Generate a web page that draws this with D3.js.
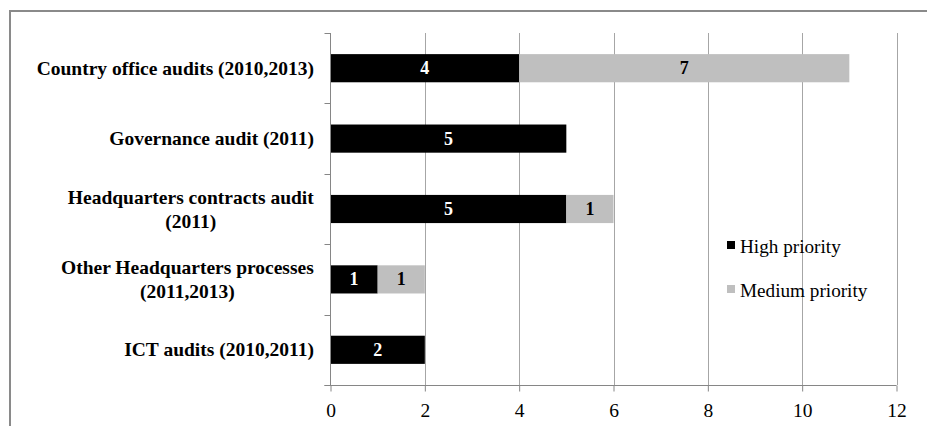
<!DOCTYPE html>
<html><head><meta charset="utf-8">
<script src="https://cdn.jsdelivr.net/npm/d3@7/dist/d3.min.js"></script>
<style>
html,body{margin:0;padding:0;background:#fff;}
svg{display:block;}
</style></head>
<body>
<svg id="chart" width="927" height="426"></svg>
<script>
const categories = [
  "Country office audits (2010,2013)",
  "Governance audit (2011)",
  "Headquarters contracts audit|(2011)",
  "Other Headquarters processes|(2011,2013)",
  "ICT audits (2010,2011)"
];
const highPriority = [4, 5, 5, 1, 2];
const mediumPriority = [7, 0, 1, 1, 0];
const seriesNames = ["High priority", "Medium priority"];
const xTicks = [0, 2, 4, 6, 8, 10, 12];

(function () {
const svg = d3.select("#chart");
const font = "Liberation Serif";
const pLeft = 330.5, pRight = 896.5, pTop = 33, pBottom = 385;

// outer frame
svg.append("rect").attr("x", 10).attr("y", 11).attr("width", 940).attr("height", 440)
  .attr("fill", "none").attr("stroke", "#8a8a8a").attr("stroke-width", 2);

const x = d3.scaleLinear().domain([0, 12]).range([pLeft, pRight]);
const y = d3.scaleBand().domain(categories).range([pTop, pBottom]).paddingInner(0.6).paddingOuter(0.3);

// gridlines
svg.append("g").selectAll("line").data(xTicks.filter(d => d > 0)).join("line")
  .attr("x1", d => Math.round(x(d)) + 0.5).attr("x2", d => Math.round(x(d)) + 0.5)
  .attr("y1", pTop).attr("y2", pBottom)
  .attr("stroke", "#a6a6a6").attr("stroke-width", 1);

const rows = categories.map((c, i) => ({c, h: highPriority[i], m: mediumPriority[i]}));
const colors = ["#000000", "#bfbfbf"];

const g = svg.append("g");
rows.forEach(r => {
  const segs = [
    {x0: 0, x1: r.h, v: r.h, col: colors[0], tc: "#ffffff"},
    {x0: r.h, x1: r.h + r.m, v: r.m, col: colors[1], tc: "#000000"}
  ];
  segs.forEach(s => {
    if (s.v <= 0) return;
    g.append("rect").attr("x", x(s.x0)).attr("width", x(s.x1) - x(s.x0))
      .attr("y", y(r.c)).attr("height", y.bandwidth()).attr("fill", s.col);
    g.append("text").attr("x", (x(s.x0) + x(s.x1)) / 2).attr("y", y(r.c) + y.bandwidth() / 2 + 6)
      .attr("text-anchor", "middle").attr("font-family", font).attr("font-weight", "bold")
      .attr("font-size", 18).attr("fill", s.tc).text(s.v);
  });
});

// x axis
const xAxis = svg.append("g").attr("transform", `translate(0,${pBottom + 0.5})`)
  .call(d3.axisBottom(x).tickValues(xTicks).tickSize(6).tickPadding(12).tickSizeOuter(0));
xAxis.attr("font-family", font);
xAxis.select(".domain").remove();
xAxis.append("line").attr("x1", pLeft - 6).attr("x2", pRight).attr("y1", 0).attr("y2", 0).attr("stroke", "#868686");
xAxis.selectAll(".tick line").attr("stroke", "#868686");
xAxis.selectAll(".tick text").attr("font-family", font).attr("font-size", 19.5).attr("fill", "#000");

// y axis
const yAxis = svg.append("g").attr("transform", `translate(${pLeft},0)`);
yAxis.append("line").attr("x1", 0).attr("x2", 0).attr("y1", pTop).attr("y2", pBottom).attr("stroke", "#868686");
const bounds = categories.map(c => y(c) - y.step() * y.paddingInner() / 2);
bounds.push(pBottom);
yAxis.selectAll("line.tk").data(bounds).join("line").attr("class", "tk")
  .attr("x1", -6).attr("x2", 0).attr("y1", d => Math.round(d) + 0.5).attr("y2", d => Math.round(d) + 0.5)
  .attr("stroke", "#868686");

// category labels
categories.forEach(c => {
  const lines = c.split("|");
  const cy = y(c) + y.bandwidth() / 2;
  const lh = 24;
  const t = svg.append("text").attr("font-family", font)
    .attr("font-weight", "bold").attr("font-size", 19.5).attr("fill", "#000");
  lines.forEach((ln, i) => {
    const ly = cy + 6.5 + (i - (lines.length - 1) / 2) * lh;
    t.append("tspan").attr("x", 314).attr("y", ly)
      .attr("text-anchor", lines.length > 1 ? "middle" : "end").text(ln);
  });
  if (lines.length > 1) {
    const bb = t.node().getBBox();
    t.selectAll("tspan").attr("x", 314 - bb.width / 2);
  }
});

// legend
const lg = svg.append("g");
seriesNames.forEach((n, i) => {
  const ly = 253 + i * 44;
  lg.append("rect").attr("x", 727).attr("y", ly - 12).attr("width", 8).attr("height", 8).attr("fill", colors[i]);
  lg.append("text").attr("x", 740).attr("y", ly).attr("font-family", font).attr("font-size", 19.2)
    .attr("fill", "#000").text(n);
});
})();
</script>
</body></html>
